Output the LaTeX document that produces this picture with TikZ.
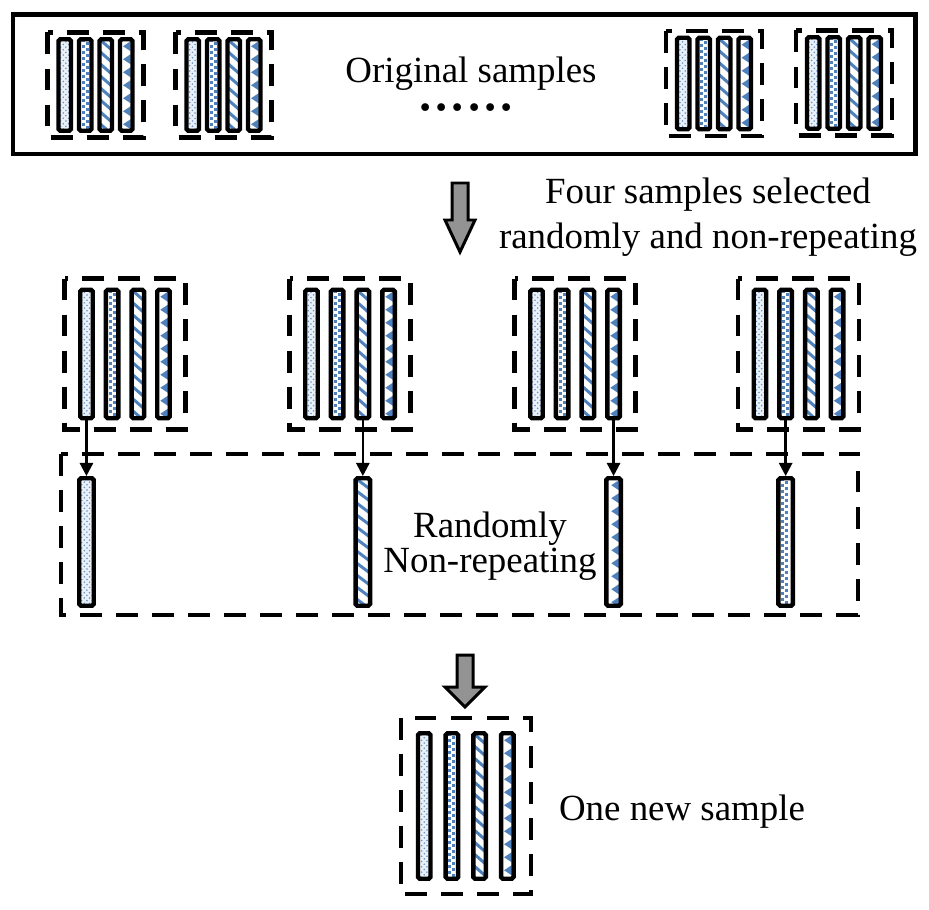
\documentclass[tikz,border=0pt]{standalone}
\usepackage{fontspec}
\setmainfont{Liberation Serif}
\usetikzlibrary{calc}
\usetikzlibrary{arrows.meta}
\usetikzlibrary{patterns}

\definecolor{bleu}{RGB}{79,129,189}
\newcommand{\unite}{0.02cm}

% Motif d'une barre : #1 numero du motif, (#2,#3) coin haut gauche, (#4,#5) coin bas droit
\newcommand{\motif}[5]{%
  \begin{scope}
    \clip (#2,#3) rectangle (#4,#5);
    \ifcase#1\or
      \fill[bleu!12] (#2,#3) rectangle (#4,#5);
      \fill[pattern=crosshatch dots, pattern color=bleu!85] (#2,#3) rectangle (#4,#5);
    \or
      \foreach \i in {0,...,40}
        {\fill[bleu] ({#2+2.6},{#3+\i*6}) rectangle +(3.2,3.2);
         \fill[bleu] ({#2+6.6},{#3+3+\i*6}) rectangle +(3.2,3.2);}
    \or
      \foreach \i in {-1,...,20}
        \draw[bleu, line width=1.7pt] (#2,{#3+\i*12}) -- (#4,{#3+\i*12+11});
    \or
      \foreach \i in {0,...,20}
        \fill[bleu] ({#4-2},{#3+2+\i*13}) -- ++(-7.5,5) -- ++(7.5,5) -- cycle;
    \fi
  \end{scope}}

% Barre : #1 nom, (#2,#3) centre, #4 largeur, #5 hauteur, #6 motif
\newcommand{\barre}[6]{%
  \pgfmathsetmacro\bxc{#2}
  \pgfmathsetmacro\bxa{#2-#4/2}
  \pgfmathsetmacro\bxb{#2+#4/2}
  \pgfmathsetmacro\bya{#3-#5/2}
  \pgfmathsetmacro\byb{#3+#5/2}
  \motif{#6}{\bxa}{\bya}{\bxb}{\byb}
  \node[barre, minimum width=#4*\unite, minimum height=#5*\unite] (#1) at (\bxc,#3) {};}

% Echantillon : #1 nom, (#2,#3) centre, #4 pas, #5 hauteur des barres, #6 x #7 cadre
\newcommand{\echantillon}[7]{%
  \draw[tirets] ({#2-#6/2},{#3-#7/2}) rectangle ({#2+#6/2},{#3+#7/2});
  \foreach \k in {1,...,4}
    {\barre{#1-\k}{#2+(\k-2.5)*#4}{#3}{12.5}{#5}{\k}}}

% Grosse fleche grise : x, haut, debut de la tete, pointe, demi-corps, demi-tete
\newcommand{\flechegrise}[6]{%
  \draw[grise] ({#1-#5},#2) -- ({#1+#5},#2) -- ({#1+#5},#3) -- ({#1+#6},#3)
    -- (#1,#4) -- ({#1-#6},#3) -- ({#1-#5},#3) -- cycle;}

\tikzset{
  barre/.style={draw, line width=2.5pt, rounded corners=1pt, inner sep=0pt},
  tirets/.style={line width=2.3pt, dash pattern=on 12.5pt off 8pt},
  boite/.style={line width=2.6pt},
  fleche/.style={-{Triangle[length=7.5pt, width=7.5pt]}, line width=1.4pt},
  grise/.style={fill=gray!85, draw=black, line width=1.7pt},
  texte/.style={font=\fontsize{21}{25.5}\selectfont, align=center, inner sep=0pt}
}

\begin{document}
\begin{tikzpicture}[x=\unite, y=-\unite]
  \useasboundingbox (0,0) rectangle (929,909);

  % Echantillons d'origine
  \draw[boite] (13,14.5) rectangle (915.5,154);
  \echantillon{o1}{95.5}{85}{20.5}{91.5}{96}{105}
  \echantillon{o2}{223.5}{85}{20.5}{91.5}{96}{105}
  \echantillon{o3}{714}{83.5}{20.5}{91.5}{96}{105}
  \echantillon{o4}{844}{83}{20.5}{91.5}{96}{105}
  \node[texte, anchor=base] (orig) at (471,83) {Original samples};
  \node[anchor=base, inner sep=0pt, font=\fontsize{37}{37}\selectfont] (points) at (466,111) {......};

  % Tirage de quatre echantillons
  \flechegrise{460}{183}{220}{252}{8}{15}
  \node[texte] (selection) at (708,217) {Four samples selected\\randomly and non-repeating};
  \echantillon{e1}{125}{354}{25.7}{128.5}{121}{151}
  \echantillon{e2}{350}{354}{25.7}{128.5}{121}{151}
  \echantillon{e3}{575}{354}{25.7}{128.5}{121}{151}
  \echantillon{e4}{798.5}{354}{25.7}{128.5}{121}{151}

  % Barres choisies
  \draw[tirets] (61,454) rectangle (858,615);
  \barre{choix1}{125-1.5*25.7}{542}{14.5}{127.5}{1}
  \barre{choix2}{350+0.5*25.7}{542}{14.5}{127.5}{3}
  \barre{choix3}{575+1.5*25.7}{542}{14.5}{127.5}{4}
  \barre{choix4}{798.5-0.5*25.7}{542}{14.5}{127.5}{2}
  \draw[fleche] (e1-1.south) -- (choix1.north);
  \draw[fleche] (e2-3.south) -- (choix2.north);
  \draw[fleche] (e3-4.south) -- (choix3.north);
  \draw[fleche] (e4-2.south) -- (choix4.north);
  \node[texte, font=\fontsize{21}{20}\selectfont] (alea) at (490,546) {Randomly\\Non-repeating};

  % Nouvel echantillon
  \flechegrise{465}{655}{687}{707}{8}{20}
  \echantillon{n}{465.75}{806}{27.7}{145.5}{130}{176}
  \node[texte, anchor=base] (nouveau) at (682,820) {One new sample};
\end{tikzpicture}
\end{document}
